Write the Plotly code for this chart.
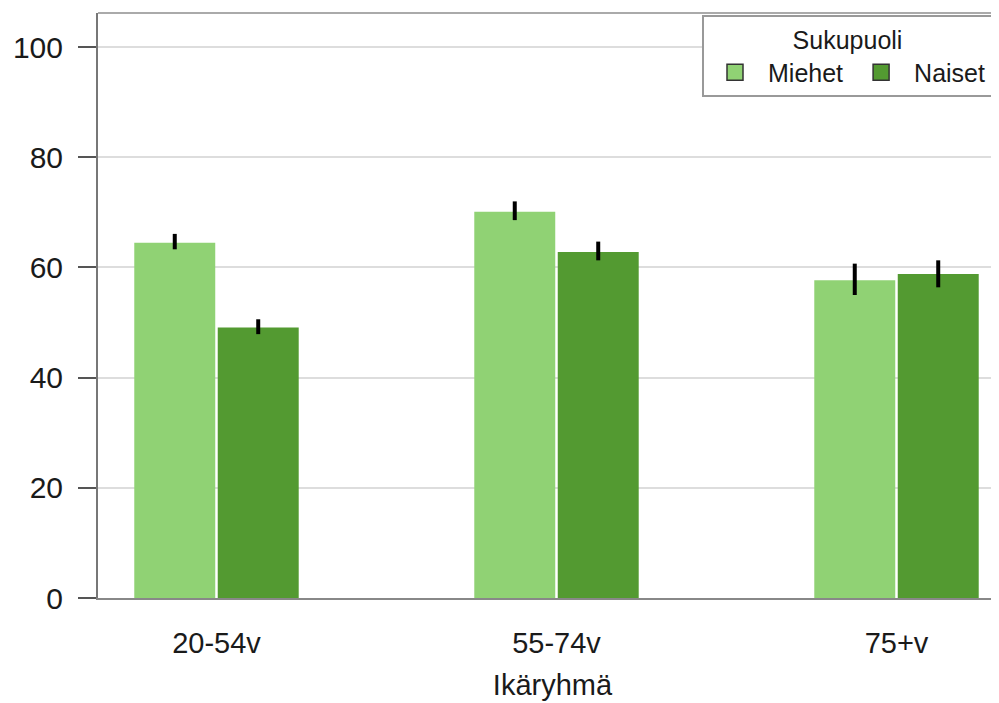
import plotly.graph_objects as go

categories = ["20-54v", "55-74v", "75+v"]
series_names = ["Miehet", "Naiset"]
miehet = [64.5, 70.1, 57.7]
miehet_hi = [66.1, 72.0, 60.7]
miehet_lo = [63.3, 68.6, 55.0]
naiset = [49.1, 62.8, 58.8]
naiset_hi = [50.6, 64.7, 61.3]
naiset_lo = [47.9, 61.3, 56.4]
y_ticks = [0, 20, 40, 60, 80, 100]
colors = ["#90D274", "#539A31"]

FONT = "Liberation Sans, Arial, sans-serif"
TXT = "#1a1a1a"

fig = go.Figure()
for name, vals, hi, lo, col in [
    (series_names[0], miehet, miehet_hi, miehet_lo, colors[0]),
    (series_names[1], naiset, naiset_hi, naiset_lo, colors[1]),
]:
    fig.add_trace(go.Bar(
        x=categories, y=vals, name=name, showlegend=False, legendgroup=name,
        marker=dict(color=col, line=dict(width=0)),
        error_y=dict(type="data", symmetric=False,
                     array=[h - v for h, v in zip(hi, vals)],
                     arrayminus=[v - l for v, l in zip(vals, lo)],
                     color="black", thickness=4, width=0),
    ))
for name, col in zip(series_names, colors):
    fig.add_trace(go.Scatter(
        x=[None], y=[None], mode="markers", name=name, legendgroup=name,
        marker=dict(symbol="square", size=18, color=col,
                    line=dict(color="#333333", width=1.5)),
    ))

fig.update_layout(
    width=999, height=703,
    margin=dict(l=90, r=0, t=5, b=113, autoexpand=False),
    paper_bgcolor="white", plot_bgcolor="white",
    font=dict(family=FONT, size=29, color=TXT),
    barmode="group", bargap=0.509, bargroupgap=0.03,
    showlegend=True,
    legend=dict(
        orientation="h", x=(694 - 90) / 909, xanchor="left",
        y=0.9966, yanchor="top",
        title=dict(text="Sukupuoli", side="top center",
                   font=dict(size=25, family=FONT, color=TXT)),
        font=dict(size=25, family=FONT, color=TXT),
        bordercolor="#999999", borderwidth=2, bgcolor="white",
        itemwidth=56,
    ),
    xaxis=dict(
        type="category", categoryorder="array", categoryarray=categories,
        range=[-0.3485, 2.325], showgrid=False, zeroline=False,
        showline=True, linecolor="#888888", linewidth=2,
        ticks="", ticklabelstandoff=18,
        tickfont=dict(size=29, family=FONT, color=TXT),
        title=dict(text="Ikäryhmä", standoff=17,
                   font=dict(size=29, family=FONT, color=TXT)),
    ),
    yaxis=dict(
        range=[0, 106.2], tickmode="array", tickvals=y_ticks,
        ticktext=[str(t) for t in y_ticks],
        showgrid=True, gridcolor="#dddddd", gridwidth=1.5, zeroline=False,
        showline=True, linecolor="#777777", linewidth=2,
        ticks="outside", ticklen=18, tickwidth=2, tickcolor="#555555",
        ticklabelstandoff=9,
        tickfont=dict(size=30, family=FONT, color=TXT),
    ),
    shapes=[dict(type="line", xref="paper", yref="paper", x0=0, x1=1, y0=1, y1=1,
                 line=dict(color="#aaaaaa", width=2))],
)

fig.write_html("out.html")
